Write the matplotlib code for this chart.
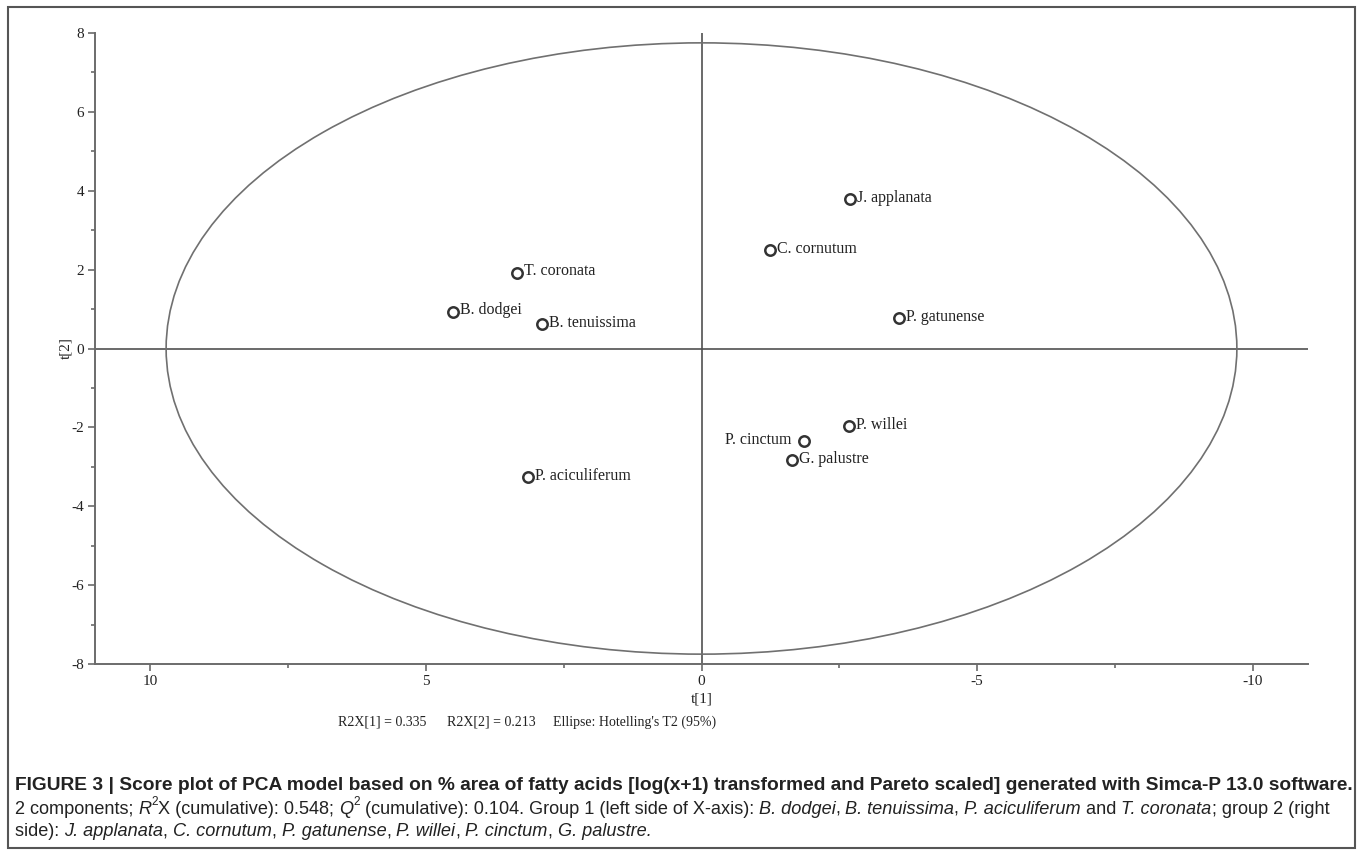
import matplotlib
matplotlib.use("Agg")
from matplotlib import pyplot as plt
from matplotlib.patches import Ellipse, Rectangle
from matplotlib.ticker import MultipleLocator

# score values
species = ['T. coronata', 'B. dodgei', 'B. tenuissima', 'P. aciculiferum',
           'J. applanata', 'C. cornutum', 'P. gatunense', 'P. willei',
           'P. cinctum', 'G. palustre']
t1 = [3.34, 4.50, 2.89, 3.14, -2.69, -1.25, -3.59, -2.67, -1.85, -1.65]
t2 = [1.92, 0.93, 0.62, -3.26, 3.79, 2.50, 0.77, -1.97, -2.35, -2.83]
label_left = ['P. cinctum']

# Hotelling's T2 ellipse radii
ellipse_a = 9.71
ellipse_b = 7.75

xticks = [10, 5, 0, -5, -10]
yticks = [-8, -6, -4, -2, 0, 2, 4, 6, 8]

footer = ['R2X[1] = 0.335', 'R2X[2] = 0.213', "Ellipse: Hotelling's T2 (95%)"]

plt.rcParams['axes.unicode_minus'] = False

W, H = 1362, 856
fig = plt.figure(figsize=(W / 100, H / 100), dpi=100)
fig.patch.set_facecolor('white')

serif = 'Liberation Serif'
sans = 'Liberation Sans'
axis_col = '#6b6b6b'
line_col = '#505050'
txt_col = '#222222'

ax = fig.add_axes([95 / W, 1 - 664 / H, (1308 - 95) / W, (664 - 33) / H])
ax.set_xlim(11, -11)
ax.set_ylim(-8, 8)
for s in ['top', 'right']:
    ax.spines[s].set_visible(False)
for s in ['left', 'bottom']:
    ax.spines[s].set_color(axis_col)
    ax.spines[s].set_linewidth(1.4)

ax.set_xticks(xticks)
ax.set_yticks(yticks)
ax.xaxis.set_minor_locator(MultipleLocator(2.5))
ax.yaxis.set_minor_locator(MultipleLocator(1))
ax.tick_params(which='both', direction='out', color=axis_col, width=1.2)
ax.tick_params(which='major', length=5, labelsize=11, labelcolor=txt_col, pad=3)
ax.tick_params(which='minor', length=3)
for lab in ax.get_xticklabels() + ax.get_yticklabels():
    lab.set_fontfamily(serif)

ax.axhline(0, color=line_col, lw=1.2, zorder=1)
ax.axvline(0, color=line_col, lw=1.2, zorder=1)
ax.add_patch(Ellipse((0, 0), 2 * ellipse_a, 2 * ellipse_b, fill=False,
                     edgecolor='#707070', lw=1.2, zorder=1))

ax.plot(t1, t2, 'o', ms=7.5, mfc='white', mec='#333333', mew=1.8, zorder=3)
for name, x, y in zip(species, t1, t2):
    if name in label_left:
        ax.annotate(name, (x, y), xytext=(-9, 1), textcoords='offset points',
                    ha='right', va='center', fontsize=11.5, family=serif, color=txt_col)
    else:
        ax.annotate(name, (x, y), xytext=(5, 1), textcoords='offset points',
                    ha='left', va='center', fontsize=11.5, family=serif, color=txt_col)

ax.set_xlabel('t[1]', fontsize=11, family=serif, labelpad=3, color=txt_col)
ax.set_ylabel('t[2]', fontsize=11, family=serif, labelpad=-1, color=txt_col)

for txt, xp in zip(footer, [338, 447, 553]):
    fig.text(xp / W, 1 - 722 / H, txt, fontsize=10, family=serif, color=txt_col,
             ha='left', va='center')

# outer frame
fig.patches.append(Rectangle((8 / W, 1 - 848 / H), (1355 - 8) / W, (848 - 7) / H,
                             transform=fig.transFigure, fill=False,
                             edgecolor='#555555', lw=1.5))

# caption
fig.text(15 / W, 1 - 785 / H,
         'FIGURE 3 | Score plot of PCA model based on % area of fatty acids '
         '[log(x+1) transformed and Pareto scaled] generated with Simca-P 13.0 software.',
         fontsize=13.75, family=sans, weight='bold', color=txt_col, va='center')

cap_size = 13.1
line2 = [('2 components; ', 'normal'), ('R', 'italic'), ('^2', 'normal'),
         ('X (cumulative): 0.548; ', 'normal'), ('Q', 'italic'), ('^2', 'normal'),
         (' (cumulative): 0.104. Group 1 (left side of X-axis): ', 'normal'),
         ('B. dodgei', 'italic'), (', ', 'normal'), ('B. tenuissima', 'italic'), (', ', 'normal'),
         ('P. aciculiferum', 'italic'), (' and ', 'normal'), ('T. coronata', 'italic'),
         ('; group 2 (right', 'normal')]
line3 = [('side): ', 'normal'), ('J. applanata', 'italic'), (', ', 'normal'),
         ('C. cornutum', 'italic'), (', ', 'normal'), ('P. gatunense', 'italic'), (', ', 'normal'),
         ('P. willei', 'italic'), (', ', 'normal'), ('P. cinctum', 'italic'), (', ', 'normal'),
         ('G. palustre.', 'italic')]

for pieces, ypix in [(line2, 809), (line3, 832)]:
    first = fig.text(15 / W, 1 - ypix / H, pieces[0][0], fontsize=cap_size, family=sans,
                     style=pieces[0][1], color=txt_col, va='center')
    prev = first
    for txt, st in pieces[1:]:
        if txt.startswith('^'):
            prev = ax.annotate(txt[1:], xy=(1, 0.55), xycoords=(prev, first),
                               fontsize=cap_size * 0.65, family=sans, color=txt_col,
                               ha='left', va='bottom', annotation_clip=False)
        else:
            prev = ax.annotate(txt, xy=(1, 0), xycoords=(prev, first),
                               fontsize=cap_size, family=sans, style=st, color=txt_col,
                               ha='left', va='bottom', annotation_clip=False)

plt.savefig('out.png', dpi=100)
